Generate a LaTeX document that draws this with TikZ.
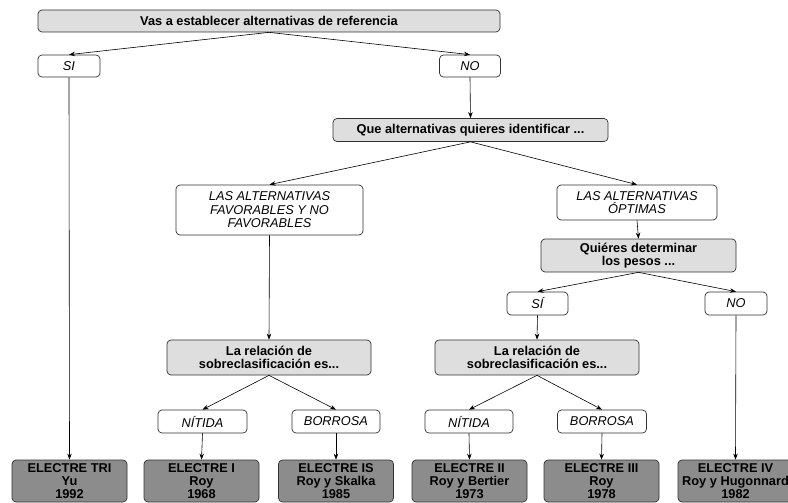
\documentclass[tikz,border=0pt]{standalone}
\usepackage{fontspec}
\setmainfont{Liberation Sans}
\usetikzlibrary{arrows.meta}
\definecolor{lightbox}{RGB}{222,222,222}
\definecolor{darkbox}{RGB}{140,140,140}
\definecolor{edgecol}{RGB}{50,50,50}
\begin{document}
\begin{tikzpicture}[x=1pt,y=-1pt,
  box/.style={draw=edgecol, rounded corners=4pt, line width=0.7pt, align=center, inner sep=0pt},
  qbox/.style={box, fill=lightbox, font=\bfseries\fontsize{12.8}{13.5}\selectfont},
  abox/.style={box, fill=white, font=\itshape\fontsize{12.8}{13.5}\selectfont},
  rbox/.style={box, fill=darkbox, minimum width=115pt, minimum height=42pt, font=\bfseries\fontsize{12.8}{13.2}\selectfont},
  arr/.style={-{Stealth[length=6pt,width=4.5pt]}, draw=black, line width=0.6pt}]
\clip (0,0) rectangle (788,503);
\fill[white] (0,0) rectangle (788,503);
% question boxes
\node[qbox, minimum width=462pt, minimum height=22pt] (top) at (269,21) {Vas a establecer alternativas de referencia};
\node[qbox, minimum width=275pt, minimum height=23pt] (que) at (470.5,130) {Que alternativas quieres identificar ...};
\node[qbox, minimum width=195pt, minimum height=33pt] (quie) at (638.5,255.5) {Quiéres determinar\\los pesos ...};
\node[qbox, minimum width=204pt, minimum height=35pt] (relL) at (269,357.5) {La relación de\\sobreclasificación es...};
\node[qbox, minimum width=204pt, minimum height=35pt] (relR) at (537,357.5) {La relación de\\sobreclasificación es...};
% answer boxes
\node[abox, minimum width=62pt, minimum height=22pt] (si) at (69,66) {SI};
\node[abox, minimum width=61pt, minimum height=22pt] (no) at (470,66) {NO};
\node[abox, minimum width=187pt, minimum height=50pt] (lasL) at (269.5,210) {LAS ALTERNATIVAS\\FAVORABLES Y NO\\FAVORABLES};
\node[abox, minimum width=160pt, minimum height=35pt] (lasR) at (637,202.5) {LAS ALTERNATIVAS\\ÓPTIMAS};
\node[abox, minimum width=61pt, minimum height=23pt] (si2) at (537.5,303.5) {SÍ};
\node[abox, minimum width=62pt, minimum height=23pt] (no2) at (736,303.5) {NO};
\node[abox, minimum width=89pt, minimum height=23pt] (nitL) at (202.5,421.5) {NÍTIDA};
\node[abox, minimum width=88pt, minimum height=23pt] (borL) at (336,421.5) {BORROSA};
\node[abox, minimum width=88pt, minimum height=23pt] (nitR) at (469,421.5) {NÍTIDA};
\node[abox, minimum width=89pt, minimum height=23pt] (borR) at (602,421.5) {BORROSA};
% results
\node[rbox] (tri) at (69.5,481) {ELECTRE TRI\\Yu\\1992};
\node[rbox] (e1) at (201.5,481) {ELECTRE I\\Roy\\1968};
\node[rbox] (eis) at (336,481) {ELECTRE IS\\Roy y Skalka\\1985};
\node[rbox] (e2) at (469.5,481) {ELECTRE II\\Roy y Bertier\\1973};
\node[rbox] (e3) at (601.5,481) {ELECTRE III\\Roy\\1978};
\node[rbox] (e4) at (735.5,481) {ELECTRE IV\\Roy y Hugonnard\\1982};
% connectors
\draw[arr] (top.south) -- (si.north);
\draw[arr] (top.south) -- (no.north);
\draw[arr] (si.south) -- (tri.north);
\draw[arr] (no.south) -- (que.north);
\draw[arr] (que.south) -- (lasL.north);
\draw[arr] (que.south) -- (lasR.north);
\draw[arr] (lasL.south) -- (relL.north);
\draw[arr] (lasR.south) -- (quie.north);
\draw[arr] (quie.south) -- (si2.north);
\draw[arr] (quie.south) -- (no2.north);
\draw[arr] (si2.south) -- (relR.north);
\draw[arr] (no2.south) -- (e4.north);
\draw[arr] (relL.south) -- (nitL.north);
\draw[arr] (relL.south) -- (borL.north);
\draw[arr] (relR.south) -- (nitR.north);
\draw[arr] (relR.south) -- (borR.north);
\draw[arr] (nitL.south) -- (e1.north);
\draw[arr] (borL.south) -- (eis.north);
\draw[arr] (nitR.south) -- (e2.north);
\draw[arr] (borR.south) -- (e3.north);
\end{tikzpicture}
\end{document}
